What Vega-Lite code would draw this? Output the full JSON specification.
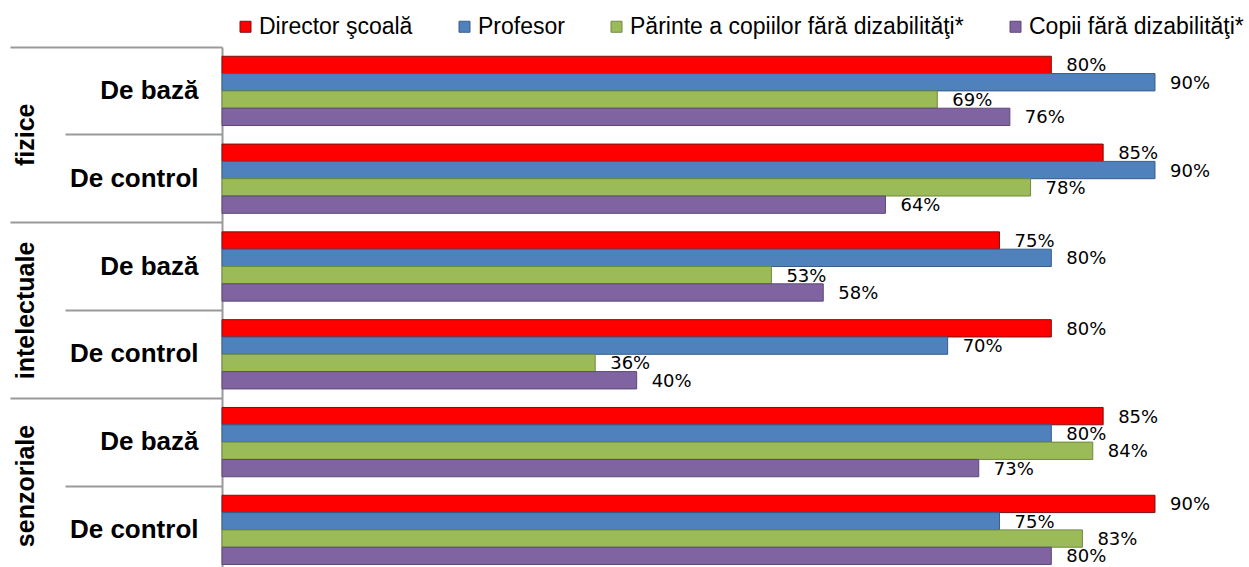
{
  "$schema": "https://vega.github.io/schema/vega-lite/v6.json",
  "width": 1027,
  "height": 520,
  "autosize": {"type": "none"},
  "padding": {"left": 222, "top": 47, "right": 0, "bottom": 0},
  "background": "white",
  "config": {"view": {"stroke": null}},
  "data": {
    "values": [
      {"row": "fizice|De bază", "series": "Director şcoală", "value": 0.80},
      {"row": "fizice|De bază", "series": "Profesor", "value": 0.90},
      {"row": "fizice|De bază", "series": "Părinte a copiilor fără dizabilităţi*", "value": 0.69},
      {"row": "fizice|De bază", "series": "Copii fără dizabilităţi*", "value": 0.76},
      {"row": "fizice|De control", "series": "Director şcoală", "value": 0.85},
      {"row": "fizice|De control", "series": "Profesor", "value": 0.90},
      {"row": "fizice|De control", "series": "Părinte a copiilor fără dizabilităţi*", "value": 0.78},
      {"row": "fizice|De control", "series": "Copii fără dizabilităţi*", "value": 0.64},
      {"row": "intelectuale|De bază", "series": "Director şcoală", "value": 0.75},
      {"row": "intelectuale|De bază", "series": "Profesor", "value": 0.80},
      {"row": "intelectuale|De bază", "series": "Părinte a copiilor fără dizabilităţi*", "value": 0.53},
      {"row": "intelectuale|De bază", "series": "Copii fără dizabilităţi*", "value": 0.58},
      {"row": "intelectuale|De control", "series": "Director şcoală", "value": 0.80},
      {"row": "intelectuale|De control", "series": "Profesor", "value": 0.70},
      {"row": "intelectuale|De control", "series": "Părinte a copiilor fără dizabilităţi*", "value": 0.36},
      {"row": "intelectuale|De control", "series": "Copii fără dizabilităţi*", "value": 0.40},
      {"row": "senzoriale|De bază", "series": "Director şcoală", "value": 0.85},
      {"row": "senzoriale|De bază", "series": "Profesor", "value": 0.80},
      {"row": "senzoriale|De bază", "series": "Părinte a copiilor fără dizabilităţi*", "value": 0.84},
      {"row": "senzoriale|De bază", "series": "Copii fără dizabilităţi*", "value": 0.73},
      {"row": "senzoriale|De control", "series": "Director şcoală", "value": 0.90},
      {"row": "senzoriale|De control", "series": "Profesor", "value": 0.75},
      {"row": "senzoriale|De control", "series": "Părinte a copiilor fără dizabilităţi*", "value": 0.83},
      {"row": "senzoriale|De control", "series": "Copii fără dizabilităţi*", "value": 0.80}
    ]
  },
  "layer": [
    {
      "mark": {"type": "bar", "orient": "horizontal", "strokeWidth": 1},
      "encoding": {
        "y": {
          "field": "row", "type": "nominal", "sort": null,
          "scale": {"range": [0, 526.8], "paddingInner": 0, "paddingOuter": 0},
          "axis": {
            "orient": "left", "title": null, "ticks": false, "grid": false,
            "domain": true, "domainColor": "#9a9a9a", "domainWidth": 2,
            "labelExpr": "split(datum.value, '|')[1]",
            "labelFont": "Liberation Sans", "labelFontWeight": "bold", "labelFontSize": 26,
            "labelColor": "black", "labelPadding": 24, "labelAlign": "right", "labelBaseline": "middle",
            "labelLimit": 400
          }
        },
        "yOffset": {
          "field": "series", "type": "nominal",
          "sort": ["Director şcoală", "Profesor", "Părinte a copiilor fără dizabilităţi*", "Copii fără dizabilităţi*"],
          "scale": {"paddingInner": 0, "paddingOuter": 0.535}
        },
        "x": {"field": "value", "type": "quantitative", "scale": {"domain": [0, 0.9907], "nice": false}, "axis": null},
        "color": {
          "field": "series", "type": "nominal",
          "scale": {
            "domain": ["Director şcoală", "Profesor", "Părinte a copiilor fără dizabilităţi*", "Copii fără dizabilităţi*"],
            "range": ["#FF0000", "#4F81BD", "#9BBB59", "#8064A2"]
          },
          "legend": {
            "orient": "none", "legendX": 12, "legendY": -32, "direction": "horizontal", "title": null,
            "symbolType": "square", "symbolSize": 121, "symbolStrokeWidth": 1,
            "labelFont": "Liberation Sans", "labelFontSize": 23, "labelColor": "black",
            "columnPadding": 40, "labelOffset": 2, "padding": 0, "labelLimit": 1000
          }
        },
        "stroke": {
          "field": "series", "type": "nominal",
          "scale": {
            "domain": ["Director şcoală", "Profesor", "Părinte a copiilor fără dizabilităţi*", "Copii fără dizabilităţi*"],
            "range": ["#7a1010", "#385D8A", "#71893F", "#5C4776"]
          },
          "legend": {
            "orient": "none", "legendX": 12, "legendY": -32, "direction": "horizontal", "title": null,
            "symbolType": "square", "symbolSize": 121, "symbolStrokeWidth": 1,
            "labelFont": "Liberation Sans", "labelFontSize": 23, "labelColor": "black",
            "columnPadding": 40, "labelOffset": 2, "padding": 0, "labelLimit": 1000
          }
        }
      }
    },
    {
      "mark": {"type": "text", "align": "left", "baseline": "middle", "dx": 15, "dy": 1.5, "font": "DejaVu Sans", "fontSize": 18, "color": "black"},
      "encoding": {
        "y": {
          "field": "row", "type": "nominal", "sort": null,
          "scale": {"range": [0, 526.8], "paddingInner": 0, "paddingOuter": 0},
          "axis": {
            "orient": "left", "title": null, "grid": false, "domain": false,
            "bandPosition": 0, "ticks": true,
            "tickSize": {"condition": {"test": "indexof(datum.value, 'De control') >= 0", "value": 157}, "value": 212},
            "tickColor": "#9a9a9a", "tickWidth": 2,
            "labelExpr": "indexof(datum.value, 'De control') >= 0 ? split(datum.value, '|')[0] : ''",
            "labelAngle": -90, "labelAlign": "center", "labelBaseline": "middle",
            "labelFont": "Liberation Sans", "labelFontWeight": "bold", "labelFontSize": 25,
            "labelColor": "black", "labelPadding": 40, "labelOffset": -43.9, "labelLimit": 400
          }
        },
        "yOffset": {
          "field": "series", "type": "nominal",
          "sort": ["Director şcoală", "Profesor", "Părinte a copiilor fără dizabilităţi*", "Copii fără dizabilităţi*"],
          "scale": {"paddingInner": 0, "paddingOuter": 0.535}
        },
        "x": {"field": "value", "type": "quantitative", "scale": {"domain": [0, 0.9907], "nice": false}, "axis": null},
        "text": {"field": "value", "type": "quantitative", "format": ".0%"}
      }
    }
  ],
  "resolve": {"axis": {"y": "independent"}}
}
